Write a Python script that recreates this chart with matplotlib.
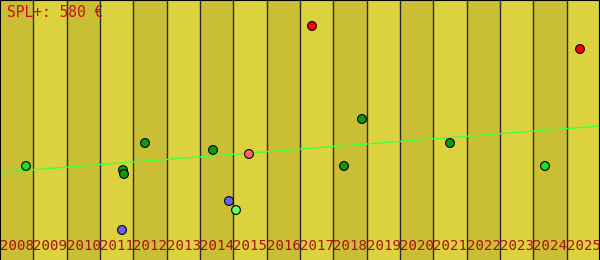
import numpy as np
import matplotlib.pyplot as plt

years = list(range(2008, 2026))
band_colors = ['#c9be34', '#dcd23e']

# points: date (decimal year), price, colour
dates = [2008.78, 2011.69, 2011.72, 2011.66, 2012.35, 2014.39, 2014.87, 2015.08,
         2015.47, 2017.36, 2018.32, 2018.86, 2021.50, 2024.35, 2025.40]
prices = [376, 360, 344, 120, 468, 440, 236, 200, 424, 936, 376, 564, 468, 376, 844]
colors = ['#22dd22', '#119911', '#119911', '#6666ff', '#119911', '#119911', '#6666ff', '#66ff66',
          '#ff6666', '#ff0000', '#119911', '#119911', '#119911', '#22dd22', '#ff0000']

trend_x = [2008, 2026]
trend_y = [351, 536]

title = 'SPL+: 580 €'

fig = plt.figure(figsize=(6, 2.6), dpi=100)
ax = fig.add_axes([0, 0, 1, 1])

for i, y in enumerate(years):
    ax.axvspan(y, y + 1, color=band_colors[i % 2], lw=0, zorder=0)
    if i > 0:
        ax.axvline(y, color='#2a2a3a', lw=1.0, zorder=1)
    ax.text(y, 0.04, str(y), transform=ax.get_xaxis_transform(), ha='left', va='baseline',
            family='DejaVu Sans Mono', fontsize=10.2, color='#aa1111', zorder=5)

ax.plot(trend_x, trend_y, color='#44ff44', lw=1, zorder=2)
ax.scatter(dates, prices, s=40, c=colors, edgecolors='black', linewidths=0.8, zorder=3)

ax.text(0.012, 0.935, title, transform=ax.transAxes, ha='left', va='baseline',
        family='DejaVu Sans Mono', fontsize=10.5, color='#cc1111', zorder=5)

ax.set_xlim(2008, 2026)
ax.set_ylim(0, 1040)
ax.set_xticks([])
ax.set_yticks([])
for side in ['top', 'left', 'right']:
    ax.spines[side].set_color('black')
    ax.spines[side].set_linewidth(1.5)
ax.spines['bottom'].set_visible(False)

fig.savefig('out.png', dpi=100)
